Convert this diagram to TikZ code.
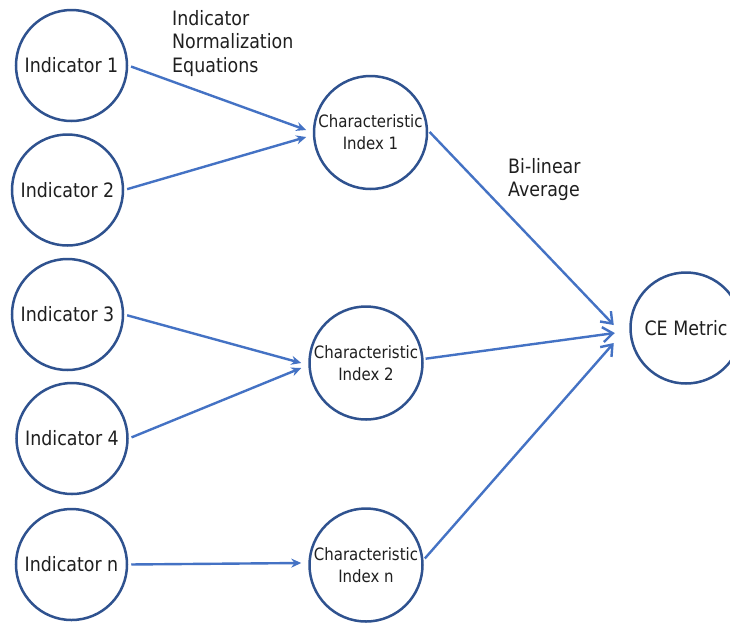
\documentclass[tikz,border=0pt]{standalone}
\usepackage{fontspec}
\setmainfont{DejaVu Sans}[FakeStretch=0.88]
\usetikzlibrary{arrows.meta}
\definecolor{ring}{HTML}{2F528F}
\definecolor{arrowblue}{HTML}{4472C4}
\definecolor{txt}{HTML}{1F1F1F}
\begin{document}
\begin{tikzpicture}[x=1pt,y=-1pt,
  ind/.style={circle, draw=ring, line width=2.5pt, minimum size=111pt, inner sep=0pt,
    font=\fontsize{19.8pt}{23pt}\selectfont, text=txt},
  chr/.style={ind, minimum size=113pt, align=center, font=\fontsize{17pt}{22pt}\selectfont},
  lab/.style={anchor=north west, inner sep=0pt, align=left,
    font=\fontsize{19.8pt}{23.5pt}\selectfont, text=txt},
  arrL/.style={draw=arrowblue, line width=2.4pt, -{Stealth[length=10pt,width=9pt]}, shorten <=3pt},
  arrR/.style={draw=arrowblue, line width=2.4pt, -{Straight Barb[length=10pt,width=15pt]}, shorten <=2pt}]
\useasboundingbox (0,0) rectangle (730,622);
\fill[white] (0,0) rectangle (730,622);

\node[ind] (I1) at (71.5,65.5) {Indicator 1};
\node[ind] (I2) at (67.5,190) {Indicator 2};
\node[ind] (I3) at (67.5,314.5) {Indicator 3};
\node[ind] (I4) at (72,438.5) {Indicator 4};
\node[ind] (In) at (71.5,564.5) {Indicator n};

\node[chr] (C1) at (370.5,132.5) {Characteristic\\Index 1};
\node[chr] (C2) at (366,363) {Characteristic\\Index 2};
\node[chr] (Cn) at (366,565) {Characteristic\\Index n};

\node[ind] (CE) at (686,328) {CE Metric};

\node[lab] (L1) at (172,10) {Indicator\\Normalization\\Equations};
\node[lab] (L2) at (508,158) {Bi-linear\\Average};

\draw[arrL] (I1.east) -- ([xshift=-6.5pt,yshift=2.5pt]C1.west);
\draw[arrL] (I2.east) -- ([xshift=-6.5pt,yshift=-4.5pt]C1.west);
\draw[arrL] (I3.east) -- ([xshift=-7pt,yshift=0pt]C2.west);
\draw[arrL] (I4.east) -- ([xshift=-7pt,yshift=-5pt]C2.west);
\draw[arrL] (In.east) -- ([xshift=-7pt,yshift=2pt]Cn.west);

\draw[arrR] (C1.2) -- ([xshift=-15.5pt,yshift=3pt]CE.west);
\draw[arrR] (C2.4) -- ([xshift=-14.5pt,yshift=-5pt]CE.west);
\draw[arrR] (Cn.5) -- ([xshift=-15.5pt,yshift=-15pt]CE.west);
\end{tikzpicture}
\end{document}
